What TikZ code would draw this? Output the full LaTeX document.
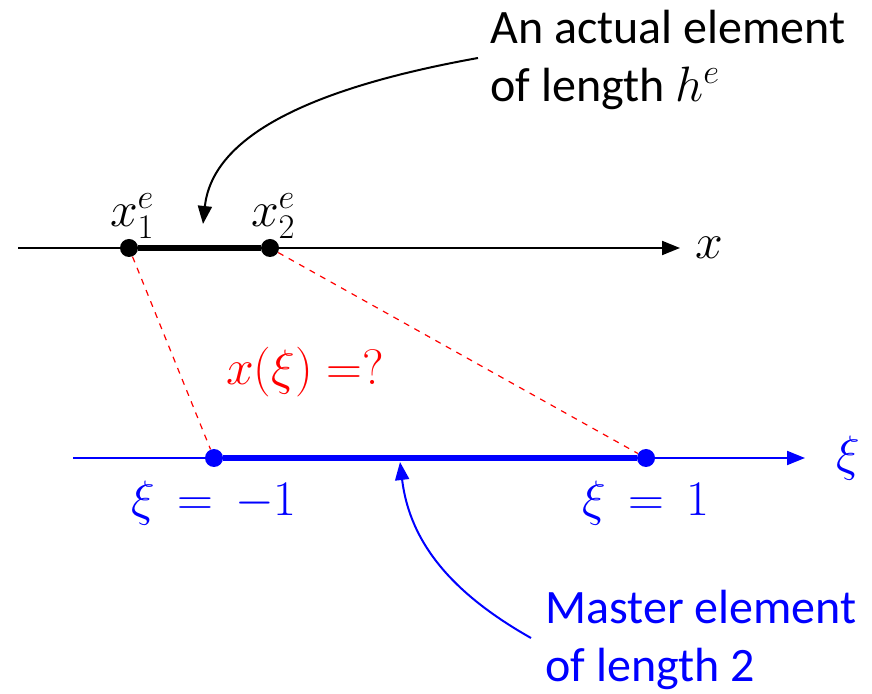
\documentclass[tikz,border=0pt]{standalone}
\usepackage{fontspec}
\setmainfont{Carlito}
\usetikzlibrary{arrows.meta, positioning}
\tikzstyle{dot}=[circle,fill,inner sep=0pt,minimum size=9pt]
\tikzstyle{every node}=[font=\fontsize{24}{29}\selectfont]
\tikzstyle{thin axis}=[line width=1pt]
\tikzstyle{elem}=[line width=2.6pt]
\tikzstyle{map}=[red,dashed,line width=0.6pt]
\tikzstyle{note}=[align=left,anchor=north west,inner sep=0pt]
\definecolor{mblue}{RGB}{0,0,255}

\begin{document}
\begin{tikzpicture}[x=0.5pt,y=-0.5pt,>={Triangle[length=9pt,width=7pt]}]
  \useasboundingbox (0,0) rectangle (872,694);
  % actual element
  \coordinate (xa) at (18,248);
  \coordinate (xb) at (680,248);
  \draw[thin axis,->] (xa) -- (xb);
  \node[right=4pt of xb] (xlab) {$x$};
  \node[dot] (x1) at (129,248) {};
  \node[dot] (x2) at (270,248) {};
  \draw[elem] (x1) -- (x2);
  \node[above right=1pt and -13pt of x1,inner sep=0pt] (x1lab) {$x_1^e$};
  \node[above right=1pt and -13pt of x2,inner sep=0pt] (x2lab) {$x_2^e$};
  \node[note] (actual) at (490,10) {An actual element\\of length $h^e$};
  \coordinate (hit) at (203,224);
  \draw[thin axis,->] (478,58) .. controls (300,90) and (212,140) .. (hit);
  % master element
  \coordinate (xia) at (73,458);
  \coordinate (xib) at (805,458);
  \draw[mblue,thin axis,->] (xia) -- (xib);
  \node[mblue,right=12pt of xib] (xilab) {$\xi$};
  \node[dot,mblue] (m1) at (214,458) {};
  \node[dot,mblue] (m2) at (646,458) {};
  \draw[mblue,elem] (m1) -- (m2);
  \node[mblue,below=3pt of m1] (m1lab) {$\xi\,=\,-1$};
  \node[mblue,below=3pt of m2] (m2lab) {$\xi\,=\,1$};
  \node[note,mblue] (master) at (545,590) {Master element\\of length 2};
  \coordinate (hit2) at (400,462);
  \draw[mblue,thin axis,->] (531,638) .. controls (455,595) and (410,545) .. (hit2);
  % mapping
  \draw[map] (x1) -- (m1);
  \draw[map] (x2) -- (m2);
  \node[red] (ask) at (305,372) {$x(\xi)\;{=}?$};
\end{tikzpicture}
\end{document}
